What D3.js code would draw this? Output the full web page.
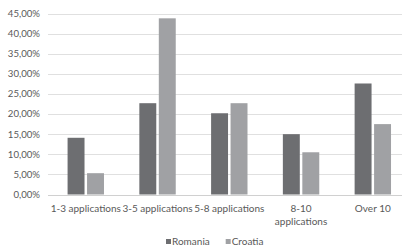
<!DOCTYPE html>
<html><head><meta charset="utf-8">
<script src="https://cdn.jsdelivr.net/npm/d3@7"></script>
<style>
html,body{margin:0;padding:0;background:#fff;overflow:hidden;}
svg{display:block;font-family:Lato,"Liberation Sans",sans-serif;}
</style></head>
<body>
<svg id="c" width="402" height="250"></svg>
<script>
const categories = ["1-3 applications", "3-5 applications", "5-8 applications", "8-10\napplications", "Over 10"];
const seriesNames = ["Romania", "Croatia"];
const romania = [14.1, 22.7, 20.2, 15.0, 27.6];
const croatia = [5.3, 43.8, 22.7, 10.5, 17.5];
const yTicks = [0, 5, 10, 15, 20, 25, 30, 35, 40, 45];
const colors = ["#6d6e71", "#a0a1a4"];

(function(){
const svg = d3.select("#c");
const mLeft = 49.9, mRight = 408.7, mTop = 13.5, mBottom = 194.5;
const x = d3.scaleBand().domain(categories).range([mLeft, mRight]).paddingInner(0).paddingOuter(0);
const y = d3.scaleLinear().domain([0, 45]).range([mBottom, mTop]);
const inner = d3.scaleBand().domain(seriesNames).range([x.bandwidth()/2 - 18.2, x.bandwidth()/2 + 18.2]).paddingInner(0.13);
const loc = d3.formatLocale({decimal: ",", thousands: ".", grouping: [3], currency: ["", ""]});
const fmt = v => loc.format(".2f")(v) + "%";

// gridlines
svg.append("g").selectAll("line").data(yTicks).join("line")
  .attr("x1", 48).attr("x2", 402)
  .attr("y1", d => Math.round(y(d)) + 0.5).attr("y2", d => Math.round(y(d)) + 0.5)
  .attr("stroke", d => d === 0 ? "#d0d0d0" : "#e0e0e0").attr("stroke-width", 1);

// y labels
svg.append("g").selectAll("text").data(yTicks).join("text")
  .attr("x", 40).attr("y", d => y(d)).attr("dy", "0.35em")
  .attr("text-anchor", "end").attr("font-size", 9.6).attr("fill", "#595959")
  .text(fmt);

// bars
const data = categories.map((c, i) => ({c, vals: [romania[i], croatia[i]]}));
const g = svg.append("g").selectAll("g").data(data).join("g")
  .attr("transform", d => `translate(${x(d.c)},0)`);
g.selectAll("rect").data(d => d.vals.map((v, j) => ({s: seriesNames[j], v, j}))).join("rect")
  .attr("x", d => inner(d.s)).attr("width", inner.bandwidth())
  .attr("y", d => y(d.v)).attr("height", d => y(0) - y(d.v))
  .attr("fill", d => colors[d.j]);

// x labels
const xl = svg.append("g").selectAll("text").data(categories).join("text")
  .attr("x", d => x(d) + x.bandwidth()/2).attr("y", 208.3)
  .attr("text-anchor", "middle").attr("font-size", 10).attr("fill", "#595959");
xl.selectAll("tspan").data(d => d.split("\n")).join("tspan")
  .attr("x", function(){ return this.parentNode.getAttribute("x"); })
  .attr("dy", (d, i) => i === 0 ? "0.35em" : "1.35em")
  .text(d => d);

// legend
const legX = [166, 225.7];
const lg = svg.append("g").selectAll("g").data(seriesNames).join("g")
  .attr("transform", (d, i) => `translate(${legX[i]},241.5)`);
lg.append("rect").attr("x", 0).attr("y", -2.5).attr("width", 5).attr("height", 5)
  .attr("fill", (d, i) => colors[i]);
lg.append("text").attr("x", 6).attr("y", 0).attr("dy", "0.35em")
  .attr("font-size", 10).attr("fill", "#595959").text(d => d);
})();
</script>
</body></html>
